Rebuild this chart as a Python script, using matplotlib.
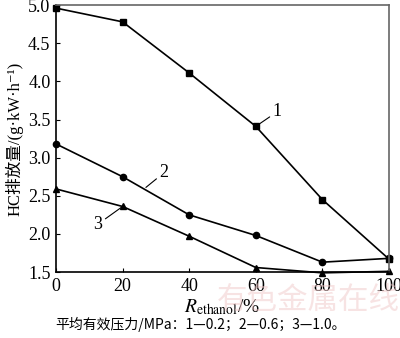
import matplotlib.pyplot as plt

r_ethanol = [0, 20, 40, 60, 80, 100]
hc_02 = [4.96, 4.78, 4.11, 3.41, 2.45, 1.67]
hc_06 = [3.18, 2.75, 2.25, 1.98, 1.63, 1.68]
hc_10 = [2.59, 2.36, 1.97, 1.56, 1.49, 1.51]

plt.rcParams['font.family'] = ['Liberation Serif', 'Noto Sans CJK SC', 'DejaVu Serif']
plt.rcParams['mathtext.fontset'] = 'stix'

fig = plt.figure(figsize=(4, 3.38), dpi=100)
ax = fig.add_axes([0.14, 0.195, 0.8325, 0.79])

ax.plot(r_ethanol, hc_02, color="black", lw=1.2, marker="s", ms=4.5, clip_on=False)
ax.plot(r_ethanol, hc_06, color="black", lw=1.2, marker="o", ms=4.5, clip_on=False)
ax.plot(r_ethanol, hc_10, color="black", lw=1.2, marker="^", ms=4.5, clip_on=False)

ax.set_xlim(0, 100)
ax.set_ylim(1.5, 5.0)
ax.set_xticks([0, 20, 40, 60, 80, 100])
ax.set_yticks([1.5, 2.0, 2.5, 3.0, 3.5, 4.0, 4.5, 5.0])
ax.set_yticklabels(["1.5", "2.0", "2.5", "3.0", "3.5", "4.0", "4.5", "5.0"])
ax.tick_params(direction="in", length=3, labelsize=13, pad=4)
for s in ax.spines.values():
    s.set_linewidth(1.2)
for s in ["top", "right"]:
    ax.spines[s].set_color("#666666")

ax.set_ylabel("HC排放量/(g·kW·h⁻¹)", fontsize=12, labelpad=3)
ax.set_xlabel("$R_{\\mathrm{ethanol}}$/%", fontsize=14, labelpad=2)

# curve labels with leader lines
ax.annotate("1", xy=(60, 3.41), xytext=(65, 3.6), fontsize=13,
            arrowprops=dict(arrowstyle="-", color="black", lw=0.8, shrinkA=0, shrinkB=0),
            va="center", ha="left")
ax.annotate("2", xy=(27, 2.61), xytext=(31, 2.8), fontsize=13,
            arrowprops=dict(arrowstyle="-", color="black", lw=0.8, shrinkA=0, shrinkB=0),
            va="center", ha="left")
ax.annotate("3", xy=(20, 2.36), xytext=(14, 2.13), fontsize=13,
            arrowprops=dict(arrowstyle="-", color="black", lw=0.8, shrinkA=0, shrinkB=0),
            va="center", ha="right")

fig.text(0.5, 0.04, "平均有效压力/MPa：1—0.2；2—0.6；3—1.0。", ha="center", va="center",
         fontsize=10, family=['Noto Sans CJK SC', 'Liberation Serif'])
fig.text(0.77, 0.112, "有色金属在线", ha="center", va="center", fontsize=22,
         color="#f0c8c8", alpha=0.5, family=['Noto Sans CJK SC'], zorder=0)

fig.savefig("out.png", dpi=100)
